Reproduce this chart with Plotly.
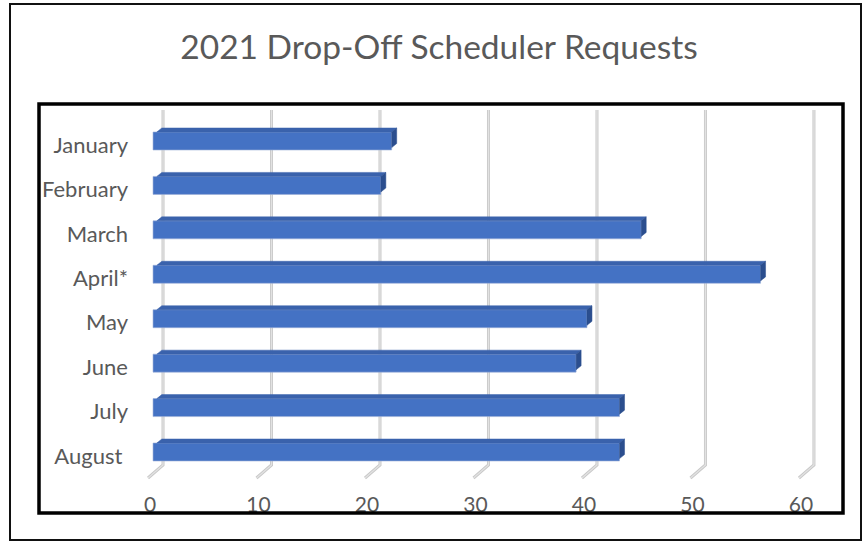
import plotly.graph_objects as go

# ---- data ----
months = ["January", "February", "March", "April*", "May", "June", "July", "August "]
requests = [22, 21, 45, 56, 40, 39, 43, 43]
xticks = [0, 10, 20, 30, 40, 50, 60]
title_text = "2021 Drop-Off Scheduler Requests"

# ---- geometry (pixels) ----
W, H = 862, 542
L, R, T, B = 140, 843, 105, 480
X0, X1 = -1.2, 63.6
Y_TOP, Y_BOT = -0.81, 7.63
ux = (X1 - X0) / (R - L)          # data units per px (x)
uy = (Y_BOT - Y_TOP) / (B - T)    # data units per px (y)

def py2y(p):
    return Y_TOP + (p - T) * uy

def px_paper(p):
    return (p - L) / (R - L)

def py_paper(p):
    return 1 - (p - T) / (B - T)

idx = list(range(len(months)))
bar_w = 18 * uy
dx, dy = 5 * ux, 4 * uy

fig = go.Figure()

# front faces
fig.add_trace(go.Bar(
    y=idx, x=requests, base=0, orientation="h", width=bar_w,
    marker=dict(color="#4472C4", line=dict(color="#9DB0D6", width=0.6)),
    hoverinfo="skip", showlegend=False,
))

# top faces and side faces
tx, ty, sx, sy = [], [], [], []
for i, v in zip(idx, requests):
    top = i - bar_w / 2
    bot = i + bar_w / 2
    tx += [0.35, v, v + dx, dx + 0.35, 0.35, None]
    ty += [top, top, top - dy, top - dy, top, None]
    sx += [v, v, v + dx, v + dx, v, None]
    sy += [top, bot - dy * 0.6, bot - dy * 1.6, top - dy, top, None]

fig.add_trace(go.Scatter(x=tx, y=ty, mode="lines", fill="toself",
                         fillcolor="#3A62AC", line=dict(color="#3A62AC", width=0.5),
                         hoverinfo="skip", showlegend=False))
fig.add_trace(go.Scatter(x=sx, y=sy, mode="lines", fill="toself",
                         fillcolor="#2B4E8E", line=dict(color="#2B4E8E", width=0.5),
                         hoverinfo="skip", showlegend=False))

# 3D-style gridlines (back wall + floor slant), behind bars
shapes = []
g_top, g_bot, g_floor = py2y(110), py2y(465), py2y(478)
for v in xticks:
    xb = v + 10 * ux
    xf = xb - 15 * ux
    path = f"M {xb},{g_top} L {xb},{g_bot} L {xf},{g_floor}"
    shapes.append(dict(type="path", xref="x", yref="y", path=path,
                       line=dict(color="#C8C8C8", width=3), layer="below"))
    shapes.append(dict(type="path", xref="x", yref="y", path=path,
                       line=dict(color="#E2E2E2", width=1.3), layer="below"))

# inner thick frame and outer thin frame
shapes.append(dict(type="rect", xref="paper", yref="paper",
                   x0=px_paper(39), x1=px_paper(843), y0=py_paper(104), y1=py_paper(513),
                   line=dict(color="black", width=3.5), layer="above"))
shapes.append(dict(type="rect", xref="paper", yref="paper",
                   x0=px_paper(10), x1=px_paper(861), y0=py_paper(4), y1=py_paper(540),
                   line=dict(color="#111111", width=2), layer="above"))

font_family = "Lato, 'Open Sans', sans-serif"

fig.update_layout(
    width=W, height=H,
    margin=dict(l=L, r=W - R, t=T, b=H - B, autoexpand=False),
    paper_bgcolor="white", plot_bgcolor="rgba(0,0,0,0)",
    shapes=shapes,
    bargap=0,
    title=dict(text=title_text, x=439 / W, y=1 - 47 / H, xref="container", yref="container",
               xanchor="center", yanchor="middle",
               font=dict(family=font_family, size=33.5, color="#595959")),
    xaxis=dict(range=[X0, X1], tickvals=xticks, ticktext=[str(v) for v in xticks],
               showgrid=False, zeroline=False, showline=False, ticks="",
               ticklabelshift=-3, ticklabelstandoff=10,
               tickfont=dict(family=font_family, size=21, color="#595959"),
               fixedrange=True),
    yaxis=dict(range=[Y_BOT, Y_TOP], tickvals=idx, ticktext=months,
               showgrid=False, zeroline=False, showline=False, ticks="",
               ticklabelstandoff=11, ticklabelshift=-4,
               tickfont=dict(family=font_family, size=22, color="#595959"),
               fixedrange=True),
    font=dict(family=font_family, color="#595959"),
)

fig.write_html("out.html", config={"displayModeBar": False, "staticPlot": True},
               post_script="document.body.style.margin='0px';document.body.style.overflow='hidden';")
